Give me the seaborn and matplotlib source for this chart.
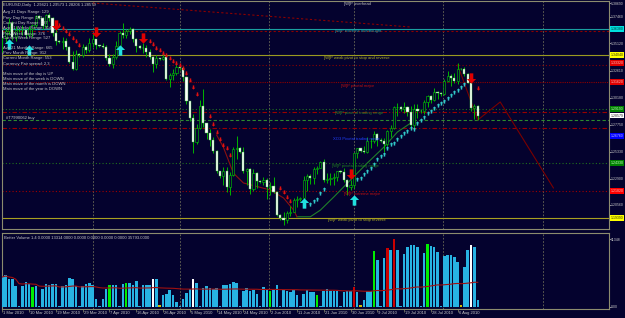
import matplotlib
matplotlib.use("Agg")
import numpy as np
import pandas as pd
import seaborn as sns
import matplotlib.pyplot as plt
import matplotlib.transforms as mtransforms
from matplotlib.path import Path

plt.rcParams['font.family'] = ['Liberation Sans', 'DejaVu Sans']

# ---------------- data ----------------
opens = [
1.3625,1.3555,1.3620,1.3695,1.3565,1.3625,
1.3630,1.3625,1.3585,1.3640,1.3670,1.3755,
1.3740,1.3665,1.3760,1.3740,1.3600,1.3530,
1.3520,1.3530,1.3480,1.3345,1.3280,1.3415,
1.3400,1.3480,1.3445,1.3510,1.3545,1.3490,
1.3485,1.3480,1.3375,1.3325,1.3385,1.3485,
1.3600,1.3580,1.3620,1.3640,1.3550,1.3485,
1.3470,1.3465,1.3435,1.3385,1.3325,1.3375,
1.3365,1.3385,1.3185,1.3225,1.3240,1.3295,
1.3285,1.3205,1.2990,1.2840,1.2620,1.2750,
1.2950,1.2790,1.2700,1.2640,1.2540,1.2360,
1.2320,1.2365,1.2220,1.2325,1.2555,1.2570,
1.2535,1.2360,1.2375,1.2200,1.2340,1.2270,
1.2265,1.2280,1.2220,1.2225,1.2170,1.1970,
1.1935,1.1925,1.1980,1.1995,1.2100,1.2110,
1.2120,1.2285,1.2315,1.2295,1.2375,1.2390,
1.2440,1.2285,1.2290,1.2300,1.2305,1.2360,
1.2355,1.2280,1.2215,1.2235,1.2520,1.2565,
1.2545,1.2535,1.2630,1.2630,1.2690,1.2640,
1.2630,1.2600,1.2720,1.2750,1.2935,1.2940,
1.2915,1.2940,1.2890,1.2775,1.2920,1.2905,
1.2900,1.2985,1.3035,1.3000,1.3075,1.3060,
1.3055,1.3170,1.3215,1.3195,1.3170,1.3280,
1.3275,1.3230,1.3150,1.2930,1.29421]
highs = [
1.3640,1.3650,1.3735,1.3710,1.3665,1.3640,
1.3670,1.3640,1.3665,1.3685,1.3765,1.3760,
1.3745,1.3775,1.3785,1.3745,1.3635,1.3540,
1.3570,1.3555,1.3485,1.3440,1.3445,1.3420,
1.3500,1.3490,1.3560,1.3590,1.3550,1.3495,
1.3510,1.3495,1.3410,1.3410,1.3530,1.3620,
1.3690,1.3640,1.3660,1.3650,1.3555,1.3490,
1.3515,1.3495,1.3455,1.3395,1.3405,1.3380,
1.3410,1.3395,1.3240,1.3280,1.3320,1.3305,
1.3285,1.3220,1.2995,1.2870,1.2780,1.3000,
1.3095,1.2795,1.2740,1.2665,1.2550,1.2365,
1.2395,1.2400,1.2350,1.2575,1.2675,1.2575,
1.2575,1.2385,1.2385,1.2375,1.2355,1.2280,
1.2310,1.2300,1.2260,1.2310,1.2185,1.1975,
1.1990,1.2005,1.2045,1.2115,1.2140,1.2125,
1.2315,1.2330,1.2335,1.2395,1.2410,1.2450,
1.2470,1.2345,1.2340,1.2345,1.2365,1.2370,
1.2385,1.2290,1.2280,1.2525,1.2570,1.2570,
1.2585,1.2665,1.2660,1.2720,1.2700,1.2655,
1.2660,1.2730,1.2775,1.2945,1.2975,1.2945,
1.2980,1.2945,1.2950,1.2960,1.2960,1.2915,
1.3000,1.3045,1.3045,1.3110,1.3085,1.3070,
1.3185,1.3260,1.3235,1.3240,1.3335,1.3290,
1.3300,1.3245,1.3165,1.2960,1.29573]
lows = [
1.3435,1.3520,1.3580,1.3535,1.3530,1.3615,
1.3585,1.3555,1.3570,1.3570,1.3655,1.3730,
1.3640,1.3650,1.3710,1.3575,1.3490,1.3510,
1.3460,1.3450,1.3335,1.3265,1.3270,1.3390,
1.3385,1.3420,1.3430,1.3480,1.3460,1.3475,
1.3465,1.3355,1.3305,1.3290,1.3370,1.3480,
1.3560,1.3560,1.3590,1.3525,1.3430,1.3460,
1.3420,1.3390,1.3370,1.3255,1.3290,1.3355,
1.3355,1.3180,1.3115,1.3180,1.3225,1.3270,
1.3170,1.2960,1.2815,1.2525,1.2600,1.2740,
1.2755,1.2645,1.2585,1.2520,1.2345,1.2300,
1.2235,1.2170,1.2145,1.2320,1.2470,1.2520,
1.2345,1.2235,1.2155,1.2185,1.2210,1.2250,
1.2240,1.2110,1.2150,1.2160,1.1960,1.1920,
1.1875,1.1890,1.1955,1.1990,1.2040,1.2095,
1.2105,1.2185,1.2245,1.2245,1.2335,1.2385,
1.2260,1.2255,1.2240,1.2240,1.2270,1.2340,
1.2265,1.2150,1.2190,1.2205,1.2480,1.2535,
1.2520,1.2525,1.2565,1.2610,1.2590,1.2620,
1.2530,1.2590,1.2665,1.2740,1.2860,1.2900,
1.2880,1.2855,1.2760,1.2745,1.2840,1.2885,
1.2875,1.2935,1.2975,1.2995,1.3010,1.3040,
1.3045,1.3165,1.3125,1.3150,1.3145,1.3265,
1.3215,1.3150,1.2900,1.2830,1.28206]
closes = [
1.3555,1.3620,1.3695,1.3565,1.3625,1.3630,
1.3625,1.3585,1.3640,1.3670,1.3755,1.3740,
1.3665,1.3760,1.3740,1.3600,1.3530,1.3520,
1.3530,1.3480,1.3345,1.3280,1.3415,1.3400,
1.3480,1.3445,1.3510,1.3545,1.3490,1.3485,
1.3480,1.3375,1.3325,1.3385,1.3485,1.3600,
1.3580,1.3620,1.3640,1.3550,1.3485,1.3470,
1.3465,1.3435,1.3385,1.3325,1.3375,1.3365,
1.3385,1.3185,1.3225,1.3240,1.3295,1.3285,
1.3205,1.2990,1.2840,1.2620,1.2750,1.2950,
1.2790,1.2700,1.2640,1.2540,1.2360,1.2320,
1.2365,1.2220,1.2325,1.2555,1.2570,1.2535,
1.2360,1.2375,1.2200,1.2340,1.2270,1.2265,
1.2280,1.2220,1.2225,1.2170,1.1970,1.1935,
1.1925,1.1980,1.1995,1.2100,1.2110,1.2120,
1.2285,1.2315,1.2295,1.2375,1.2390,1.2440,
1.2285,1.2290,1.2300,1.2305,1.2360,1.2355,
1.2280,1.2215,1.2235,1.2520,1.2565,1.2545,
1.2535,1.2630,1.2630,1.2690,1.2640,1.2630,
1.2600,1.2720,1.2750,1.2935,1.2940,1.2915,
1.2940,1.2890,1.2775,1.2920,1.2905,1.2900,
1.2985,1.3035,1.3000,1.3075,1.3060,1.3055,
1.3170,1.3215,1.3195,1.3170,1.3280,1.3275,
1.3230,1.3150,1.2930,1.2942,1.28579]

volumes = [
5010,5340,4680,4680,3510,150,
3510,4180,3840,3340,3510,150,
3010,3840,3670,3840,3840,150,
3510,3670,4840,4680,3510,150,
3510,3840,4010,3670,1340,150,
1340,3010,3670,3670,3670,150,
3840,4010,4010,3670,4340,150,
3670,3670,3670,4680,4680,300,
2000,2170,2840,2000,840,150,
1340,2340,3010,4680,4010,150,
3170,3510,3170,3010,3170,150,
3670,3670,3840,4180,4010,150,
2670,3170,2670,2840,2170,150,
3340,3010,2670,2840,3670,150,
2840,2670,2510,2840,2000,150,
2170,2840,2510,2510,2000,150,
2670,3010,2670,2670,2670,150,
2510,2670,2670,3340,2510,300,
1170,2670,2670,9350,7850,150,
8180,9850,9520,11350,9520,150,
8850,10020,10350,10350,10020,150,
9020,10520,10190,10020,9190,150,
8520,8680,8680,8350,7520,300,
6680,9520,10350,10020,1170]
vol_kind = list(
"nnnnns" "nnngns" "nnnnns" "nnnnns" "nnnnns" "nngnns" "ngnnns" "nnnwny"
"nnnnns" "nnnwns" "nnnnns" "nnnnns" "nnnnns" "nngnns" "nnnnns" "nnnngs"
"nnnnns" "nnnrny" "nnngns" "nrnrns" "nnnnns" "ngnnns" "nnnnny" "nnwnn")

date_tick_bars = [0, 8, 16, 24, 32, 40, 48, 56, 64, 72, 80, 88, 96, 104, 112, 120, 128, 136]
date_tick_labels = ["1 Mar 2010", "10 Mar 2010", "19 Mar 2010", "29 Mar 2010", "7 Apr 2010",
                    "16 Apr 2010", "26 Apr 2010", "5 May 2010", "14 May 2010", "24 May 2010",
                    "2 Jun 2010", "11 Jun 2010", "21 Jun 2010", "30 Jun 2010", "9 Jul 2010",
                    "19 Jul 2010", "28 Jul 2010", "6 Aug 2010"]
grid_bars = [27, 53, 79.5, 105, 131.5, 161.5]

price_ticks = [1.38690, 1.37460, 1.35120, 1.32610, 1.30180, 1.27750, 1.25330, 1.22900, 1.20560]

# small SAR-like arrows
sar_dn_bars = [16,17,18,19,20,21,22,23, 44,45,46,47,48,49,50,51,52,53,54,55,56,57,58,
               62,63,64,65,66,67,68, 83,84,85,86, 142]
sar_dn_vals = [1.3690,1.3670,1.3650,1.3620,1.3590,1.3560,1.3530,1.3490,
               1.3530,1.3500,1.3470,1.3445,1.3420,1.3400,1.3375,1.3350,1.3330,1.3310,1.3290,
               1.3240,1.3180,1.3120,1.3050,
               1.2856,1.2784,1.2712,1.2649,1.2595,1.2568,1.2505,
               1.2209,1.2173,1.2128,1.2092, 1.3110]
sar_up_bars = [92,93,94,95,96] + list(range(106, 139))
sar_up_vals = [1.2065,1.2090,1.2110,1.2160,1.2200,
               1.2290,1.2300,1.2335,1.2365,1.2390,1.2425,1.2465,1.2495,1.2515,1.2570,
               1.2600,1.2610,1.2650,1.2680,1.2700,1.2725,1.2750,1.2740,1.2790,1.2820,
               1.2850,1.2880,1.2905,1.2930,1.2955,1.2975,1.2995,1.3020,1.3045,1.3070,
               1.3090,1.3120,1.3140]

# big signal arrows
buy_bars = [2, 8, 35, 90, 105]
buy_vals = [1.3500, 1.3449, 1.3450, 1.2070, 1.2101]
sell_bars = [16, 28, 42, 104, 140]
sell_vals = [1.3670, 1.3611, 1.3560, 1.2330, 1.3198]

# curves / lines
ma_green_bars = [88, 92, 95, 99, 104, 109, 114, 118, 122]
ma_green_vals = [1.1950, 1.1950, 1.2010, 1.2128, 1.2281, 1.2433, 1.2577, 1.2712, 1.2793]
ma_red_bars = [64, 66, 69, 72, 80, 84, 87, 88]
ma_red_vals = [1.2685, 1.2577, 1.2343, 1.2254, 1.2191, 1.2119, 1.2011, 1.1950]
trend_bars = [27, 122]
trend_vals = [1.3872, 1.3656]
zz_bars = [136, 142, 148.7, 164.6]
zz_vals = [1.3314, 1.2820, 1.2982, 1.2209]

levels = [1.3638, 1.3620, 1.3404, 1.3314, 1.3162, 1.2919, 1.2892, 1.2820, 1.2748, 1.2433, 1.2182, 1.1939]
level_colors = ['#1aa0a0', '#8b0000', '#9a9a20', '#8b0000', '#8b0000', '#1f6f1f',
                '#990000', '#2d8a2d', '#990000', '#1f6f1f', '#a00000', '#a8a020']
level_styles = ['-', (0, (2, 2)), '-', (0, (1, 2)), (0, (1, 1)), (0, (1, 2)),
                (0, (4, 2, 1, 2)), (0, (3, 2)), (0, (4, 2, 1, 2)), (0, (1, 2)), (0, (1, 2)), '-']

level_text = ["[W]P overhead", "[W]P extreme overbought", "[W]P weak pivot to stop and reverse",
              "[W]P pivotal major", "[W]P pivot of trading range", "XO3 Pivotal trading range",
              "[W]P pivotal trading range", "[W]P extreme major", "[W]P weak pivot to stop reverse"]
level_text_bars = [102, 99.5, 96.2, 101.3, 99.5, 98.9, 98.6, 101.9, 97.4]
level_text_vals = [1.3863, 1.3620, 1.3377, 1.3126, 1.2883, 1.2649, 1.2406, 1.2155, 1.1921]
level_text_colors = ['#c0c0c0', '#20b0b0', '#b0b020', '#c01010', '#2e8b2e', '#2040ff',
                     '#1f7f1f', '#c01010', '#b0b020']

box_vals = [1.3638, 1.3404, 1.3332, 1.3162, 1.2919, 1.28579, 1.2676, 1.2433, 1.2182, 1.1939]
box_colors = ['#00e0e0', '#ffff00', '#e00000', '#e00000', '#008000', '#ffffff',
              '#0000ff', '#008000', '#ff0000', '#ffff00']
box_text_colors = ['#003030', '#303000', '#ffc0c0', '#ffc0c0', '#c0ffc0', '#202020',
                   '#c0c0ff', '#c0ffc0', '#ffc0c0', '#303000']

info_lines = ["EURUSD,Daily  1.29421 1.29573 1.28206 1.28579", "Avg 21 Days Range: 129",
              "Prev Day Range: 151", "Current Day Range: 137", "Avg 21 Weeks Range: 314",
              "Prev Week Range: 376", "Current Week Range: 527", "Avg 21 Months Range: 665",
              "Prev Month Range: 912", "Current Month Range: 553", "Currency Pair spread: 2.3",
              "Main move of the day is UP", "Main move of the week is DOWN",
              "Main move of the month is DOWN", "Main move of the year is DOWN"]
info_rows = [5, 12, 17.5, 23, 28.5, 33.5, 38.5, 48, 53, 58.5, 63.5, 74, 79, 84, 89]

# ---------------- style ----------------
BG = '#04022e'
FRAME = '#8c8c6e'
TXT = '#c8c8c8'

n = len(closes)
bars = np.arange(n)
df = pd.DataFrame({"bar": bars, "open": opens, "high": highs, "low": lows,
                   "close": closes, "volume": volumes, "kind": vol_kind})
df["vol_ma"] = df["volume"].rolling(100, min_periods=1).mean()

fig = plt.figure(figsize=(6.25, 3.18), dpi=100, facecolor=BG)
W, H = 625.0, 318.0
ax1 = fig.add_axes([2 / W, 1 - 229 / H, 607 / W, 228 / H], facecolor=BG)
ax2 = fig.add_axes([2 / W, 1 - 309 / H, 607 / W, 76 / H], facecolor=BG)

for ax in (ax1, ax2):
    for sp in ax.spines.values():
        sp.set_color(FRAME)
        sp.set_linewidth(0.8)
    for g in grid_bars:
        ax.axvline(g, color='#6e6e58', lw=0.6, ls=(0, (2, 2)), zorder=0)

# horizontal levels
for lv, c, ls in zip(levels, level_colors, level_styles):
    ax1.axhline(lv, color=c, ls=ls, lw=0.8, zorder=1)

# candles
bull = df["close"] >= df["open"]
ax1.vlines(df["bar"], df["low"], df["high"], color='#00b400', lw=0.7, zorder=3)
body_lo = np.minimum(df["open"], df["close"])
body_h = np.maximum(np.abs(df["close"] - df["open"]), 0.00015)
ax1.bar(df["bar"][bull], body_h[bull], bottom=body_lo[bull], width=0.65,
        facecolor=BG, edgecolor='#00d000', linewidth=0.4, zorder=4)
ax1.bar(df["bar"][~bull], body_h[~bull], bottom=body_lo[~bull], width=0.65,
        facecolor='white', edgecolor='#40c040', linewidth=0.3, zorder=4)

# curves
sns.lineplot(x=ma_green_bars, y=ma_green_vals, ax=ax1, color='#1f7f2a', lw=0.8, zorder=2)
sns.lineplot(x=ma_red_bars, y=ma_red_vals, ax=ax1, color='#8b1010', lw=0.8, zorder=2)
sns.lineplot(x=trend_bars, y=trend_vals, ax=ax1, color='#8b0000', lw=0.8, ls=(0, (2, 2)), zorder=2)
sns.lineplot(x=zz_bars, y=zz_vals, ax=ax1, color='#7a0000', lw=0.8, zorder=2)

# arrows
up_path = Path([(0, 1), (-0.9, 0.1), (-0.35, 0.1), (-0.35, -1), (0.35, -1), (0.35, 0.1),
                (0.9, 0.1), (0, 1)], closed=True)
dn_path = Path([(0, -1), (-0.9, -0.1), (-0.35, -0.1), (-0.35, 1), (0.35, 1), (0.35, -0.1),
                (0.9, -0.1), (0, -1)], closed=True)
ax1.scatter(sar_dn_bars, sar_dn_vals, marker=dn_path, s=9, color='#e01010', lw=0, zorder=5)
ax1.scatter(sar_up_bars, sar_up_vals, marker=up_path, s=9, color='#30c8c8', lw=0, zorder=5)
ax1.scatter(buy_bars, buy_vals, marker=up_path, s=55, color='#20e0e0', lw=0, zorder=6)
ax1.scatter(sell_bars, sell_vals, marker=dn_path, s=55, color='#e00000', lw=0, zorder=6)

# level labels
for t, b, v, c in zip(level_text, level_text_bars, level_text_vals, level_text_colors):
    ax1.text(b, v, t, color=c, fontsize=3.0, va='center', ha='left', zorder=7)
ax1.text(1, 1.2838, "#T7990062 buy", color=TXT, fontsize=3.0, va='center', ha='left', zorder=7)

ax1.set_xlim(-0.1, 181.2)
ax1.set_ylim(1.18400, 1.38898)
ax1.set_xticks([])
ax1.yaxis.tick_right()
ax1.set_yticks(price_ticks)
ax1.set_yticklabels([f"{v:.5f}" for v in price_ticks])
ax1.tick_params(axis='y', labelsize=2.5, colors=TXT, length=1.2, width=0.5, pad=0.4)
ax1.set_xlabel("")
ax1.set_ylabel("")

trans = mtransforms.blended_transform_factory(ax1.transAxes, ax1.transData)
for v, fc, tc in zip(box_vals, box_colors, box_text_colors):
    ax1.text(1.0025, v, f"{v:.5f}", transform=trans, fontsize=2.5, color=tc, va='center',
             ha='left', clip_on=False, zorder=8,
             bbox=dict(boxstyle='square,pad=0.2', fc=fc, ec='none'))

# info text
for row, s in zip(info_rows, info_lines):
    fig.text(3 / W, 1 - row / H, s, color=TXT, fontsize=3.0, va='center', ha='left')

# ---------------- volume panel ----------------
pal = {'n': '#27b3e3', 'g': '#00ee00', 'r': '#cc0000', 'w': '#ffffff', 'y': '#d4c000', 's': '#27b3e3'}
sns.barplot(data=df, x="bar", y="volume", hue="kind", palette=pal, native_scale=True,
            dodge=False, width=0.75, errorbar=None, legend=False, saturation=1,
            ax=ax2, zorder=3)
sns.lineplot(data=df, x="bar", y="vol_ma", ax=ax2, color='#a01010', lw=0.8, zorder=4)
ax2.set_xlim(-0.1, 181.2)
ax2.set_ylim(-334, 12358)
ax2.set_xlabel("")
ax2.set_ylabel("")
ax2.yaxis.tick_right()
ax2.set_yticks([11348, 0])
ax2.set_yticklabels(["11348", "0.00"])
ax2.tick_params(axis='y', labelsize=2.5, colors=TXT, length=1.2, width=0.5, pad=0.4)
ax2.set_xticks(date_tick_bars)
ax2.set_xticklabels([])
ax2.tick_params(axis='x', length=2, width=0.5, colors=FRAME)
xtrans = mtransforms.blended_transform_factory(ax2.transData, ax2.transAxes)
for b, s in zip(date_tick_bars, date_tick_labels):
    ax2.text(b + 0.3, -0.03, s, transform=xtrans, fontsize=3.0, color=TXT,
             va='top', ha='left', clip_on=False)
ax2.text(0.004, 0.93, "Better Volume 1.4 0.0000 13314.0000 0.0000 0.0000 0.0000 0.0000 35793.0000",
         transform=ax2.transAxes, fontsize=3.0, color=TXT, va='center', ha='left')

fig.savefig("out.png", dpi=100, facecolor=BG)
